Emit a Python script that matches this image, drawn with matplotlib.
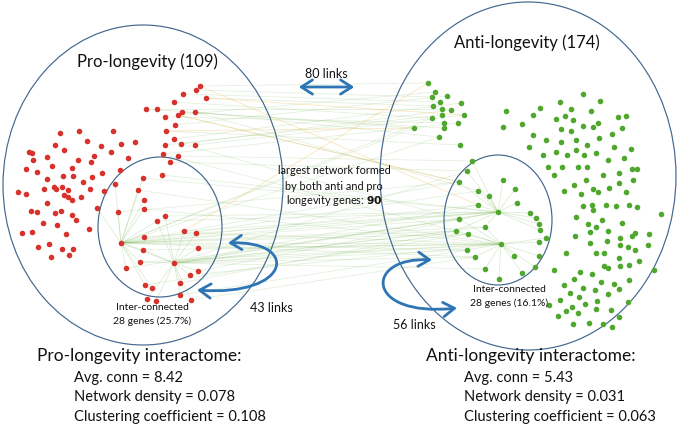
import matplotlib
matplotlib.use("Agg")
import matplotlib.pyplot as plt
from matplotlib.patches import Ellipse, FancyArrowPatch
from matplotlib.path import Path

# ---------------- data ----------------
# Pro-longevity genes (red); first two are hubs
red_x = [121, 174,
         143, 162, 138, 144, 144, 118, 157, 165, 144, 184, 196, 198, 143, 140, 126, 190, 198, 145, 152, 180, 180, 147, 156, 191, 115, 97,
         200, 196, 183, 206, 174, 146, 157, 165, 178, 182, 195, 175, 166, 174, 181, 195, 165, 163, 178, 170,
         60, 79, 113, 87, 101, 121, 135, 55, 64, 29, 32, 94, 111, 128, 33, 47, 78, 91, 52, 72, 26, 37, 120, 63, 73, 92, 102, 47, 83,
         44, 54, 56, 62, 68, 90, 104, 18, 26, 64, 68, 72, 81, 47, 31, 37, 55, 61, 72, 76, 43, 57, 89, 22, 32, 66, 38, 49, 62, 73, 51, 69]
red_y = [243, 263,
         178, 175, 190, 200, 209, 212, 221, 216, 237, 231, 233, 248, 250, 262, 268, 275, 271, 285, 288, 283, 295, 299, 301, 300, 184, 208,
         86, 90, 94, 98, 102, 109, 109, 117, 115, 112, 112, 125, 131, 139, 144, 145, 145, 154, 156, 162,
         133, 131, 131, 141, 146, 144, 142, 145, 150, 152, 153, 156, 152, 158, 160, 157, 160, 162, 166, 168, 169, 172, 170, 176, 176, 177, 173, 179, 182,
         189, 187, 189, 187, 190, 189, 191, 192, 194, 195, 197, 200, 197, 203, 211, 212, 213, 211, 215, 220, 223, 225, 229, 233, 232, 234, 247, 244, 249, 249, 257, 255]

# Anti-longevity genes (green); first two are hubs
green_x = [498, 501,
           472, 467, 459, 503, 515, 478, 489, 478, 517, 530, 536, 459, 539, 540, 485, 456, 468, 546, 539, 467, 475, 514, 539, 535, 485, 522, 499,
           428, 435, 432, 447, 440, 461, 433, 442, 451, 464, 432, 442, 444, 458, 444, 414, 439, 460,
           506, 503, 522, 583, 560, 600, 540, 571, 533, 591, 556, 565, 573, 618, 626, 561, 571, 583, 593, 598, 622, 533, 546, 561, 576, 599, 612,
           529, 556, 567, 576, 584, 587, 596, 614, 631, 543, 608, 624, 548, 562, 578, 587, 554, 603, 619, 586, 632, 637, 633, 574, 593, 609, 619,
           598, 564, 581, 626, 592, 583, 606, 616, 629, 637, 593, 661, 576, 588, 602, 622, 596, 575, 590, 608, 620, 632, 635, 649, 590, 607, 620,
           628, 635, 648, 566, 596, 604, 619, 639, 604, 608, 620, 629, 654, 554, 580, 592, 574, 601, 614, 629, 564, 583, 595, 608, 619, 570, 579,
           560, 585, 597, 628, 572, 549, 566, 558, 578, 596, 611, 619, 573, 589, 603, 612]
green_y = [212, 244,
           161, 171, 182, 180, 189, 191, 196, 205, 203, 213, 218, 219, 224, 230, 227, 231, 234, 238, 242, 250, 257, 256, 256, 267, 269, 273, 279,
           83, 92, 97, 96, 102, 103, 106, 109, 110, 115, 118, 115, 123, 123, 128, 128, 137, 145,
           111, 127, 124, 94, 102, 101, 108, 109, 115, 111, 119, 116, 120, 117, 116, 129, 131, 126, 127, 123, 128, 135, 140, 142, 140, 138, 134,
           147, 152, 155, 150, 155, 145, 153, 147, 149, 155, 160, 158, 167, 167, 167, 167, 175, 175, 173, 180, 169, 169, 180, 185, 189, 188, 183,
           192, 191, 194, 192, 205, 206, 205, 206, 205, 207, 210, 214, 217, 224, 220, 223, 227, 236, 232, 231, 238, 236, 233, 234, 243, 241, 245,
           247, 250, 245, 253, 253, 253, 258, 261, 266, 268, 266, 265, 270, 270, 272, 274, 279, 282, 284, 280, 285, 288, 290, 294, 289, 293, 297,
           300, 304, 301, 302, 307, 305, 311, 316, 313, 309, 310, 317, 324, 323, 324, 327]

# links (red index, green index)
cross_links = [(0, 13), (0, 17), (0, 18), (0, 21), (0, 16), (0, 0), (0, 1), (0, 9), (0, 22), (0, 4), (0, 7), (0, 44), (0, 39), (0, 45),
               (1, 0), (1, 1), (1, 13), (1, 17), (1, 18), (1, 21), (1, 22), (1, 16), (1, 26), (1, 9), (1, 3),
               (10, 0), (11, 0), (12, 1), (13, 1), (14, 1), (8, 0), (9, 0), (15, 1), (17, 1), (18, 0), (3, 0), (2, 0), (6, 1), (4, 1),
               (28, 29), (29, 31), (30, 33), (31, 35), (32, 39), (33, 44), (34, 36), (35, 41), (36, 30), (37, 43), (38, 45), (39, 32),
               (40, 46), (41, 34), (42, 37), (43, 38), (44, 40), (45, 42), (46, 2), (47, 3), (36, 4), (42, 13), (45, 17), (38, 7),
               (21, 17), (22, 21), (19, 18), (25, 22), (16, 13), (7, 4)]
cross_links_orange = [(11, 29), (36, 4), (28, 9), (40, 44), (31, 38)]
red_links = [(0, 2), (0, 4), (0, 5), (0, 6), (0, 7), (0, 10), (0, 14), (0, 15), (0, 16), (0, 19), (0, 20), (0, 26), (0, 27), (0, 8),
             (1, 9), (1, 11), (1, 12), (1, 13), (1, 17), (1, 18), (1, 21), (1, 22), (1, 23), (1, 24), (1, 25), (1, 14), (1, 15), (1, 8), (1, 0)]
green_links = [(0, 2), (0, 3), (0, 4), (0, 5), (0, 6), (0, 7), (0, 8), (0, 9), (0, 10), (0, 11), (0, 12), (0, 14), (0, 15), (0, 16), (0, 13), (0, 17),
               (1, 16), (1, 18), (1, 19), (1, 20), (1, 21), (1, 22), (1, 23), (1, 24), (1, 25), (1, 26), (1, 27), (1, 28), (1, 17), (1, 13)]

pro_title = "Pro-longevity (109)"
anti_title = "Anti-longevity (174)"
pro_stats = ["Avg. conn = 8.42", "Network density = 0.078", "Clustering coefficient = 0.108"]
anti_stats = ["Avg. conn = 5.43", "Network density = 0.031", "Clustering coefficient = 0.063"]

# ---------------- drawing ----------------
FONT = ["Lato", "DejaVu Sans"]
plt.rcParams['font.family'] = FONT

fig = plt.figure(figsize=(6.8, 4.24), dpi=100)
ax = fig.add_axes([0, 0, 1, 1])
ax.set_xlim(0, 680)
ax.set_ylim(424, 0)
ax.axis('off')

EDGE_G = '#7cb65a'
EDGE_O = '#f0b030'
for r, g in cross_links:
    ax.plot([red_x[r], green_x[g]], [red_y[r], green_y[g]], color=EDGE_G, lw=0.6, alpha=0.2, zorder=1)
for r, g in cross_links_orange:
    ax.plot([red_x[r], green_x[g]], [red_y[r], green_y[g]], color=EDGE_O, lw=0.6, alpha=0.3, zorder=1)
for a, b in red_links:
    ax.plot([red_x[a], red_x[b]], [red_y[a], red_y[b]], color=EDGE_G, lw=0.6, alpha=0.25, zorder=1)
for a, b in green_links:
    ax.plot([green_x[a], green_x[b]], [green_y[a], green_y[b]], color=EDGE_G, lw=0.6, alpha=0.25, zorder=1)

ax.scatter(red_x, red_y, s=16, color='#d7322b', linewidths=0, zorder=3)
ax.scatter(green_x, green_y, s=16, color='#4fa82d', linewidths=0, zorder=3)

ELL = '#41678f'
for (cx, cy, w, h) in [(143, 185, 280, 320), (528, 176, 296, 348), (160, 227, 124, 140), (498, 220, 108, 130)]:
    ax.add_patch(Ellipse((cx, cy), w, h, fill=False, edgecolor=ELL, lw=0.85, zorder=2))

ARW = '#2e75b6'
astyle = "<->,head_length=0.5,head_width=0.32"
ax.add_patch(FancyArrowPatch((296, 87), (357, 87), arrowstyle=astyle, mutation_scale=16,
                             color=ARW, lw=2.0, zorder=4))
pL = Path([(228, 243), (300, 240), (292, 297), (197, 290)], [Path.MOVETO, Path.CURVE4, Path.CURVE4, Path.CURVE4])
ax.add_patch(FancyArrowPatch(path=pL, arrowstyle=astyle, mutation_scale=16, color=ARW, lw=2.0, zorder=4))
pR = Path([(432, 260), (364, 256), (364, 318), (457, 308)], [Path.MOVETO, Path.CURVE4, Path.CURVE4, Path.CURVE4])
ax.add_patch(FancyArrowPatch(path=pR, arrowstyle=astyle, mutation_scale=16, color=ARW, lw=2.0, zorder=4))

TC = '#111111'
ax.text(147, 62, pro_title, fontsize=12, ha='center', va='center', color=TC)
ax.text(527, 43, anti_title, fontsize=12, ha='center', va='center', color=TC)
ax.text(326, 74, "80 links", fontsize=9, ha='center', va='center', color=TC)
ax.text(271, 308, "43 links", fontsize=9, ha='center', va='center', color=TC)
ax.text(414, 325, "56 links", fontsize=9, ha='center', va='center', color=TC)
ax.text(334, 171, "largest network formed", fontsize=7.8, ha='center', va='center', color=TC)
ax.text(334, 186, "by both anti and pro", fontsize=7.8, ha='center', va='center', color=TC)
ax.text(334, 200, r"longevity genes: $\bf{90}$", fontsize=7.8, ha='center', va='center', color=TC)
ax.text(152, 307, "Inter-connected", fontsize=7.5, ha='center', va='center', color=TC)
ax.text(152, 321, "28 genes (25.7%)", fontsize=7.5, ha='center', va='center', color=TC)
ax.text(509, 289, "Inter-connected", fontsize=7.5, ha='center', va='center', color=TC)
ax.text(509, 303, "28 genes (16.1%)", fontsize=7.5, ha='center', va='center', color=TC)

ax.text(37, 356, "Pro-longevity interactome:", fontsize=12.5, ha='left', va='center', color=TC)
ax.text(426, 356, "Anti-longevity interactome:", fontsize=12.5, ha='left', va='center', color=TC)
for i, s in enumerate(pro_stats):
    ax.text(74, 378 + i * 19.5, s, fontsize=10.5, ha='left', va='center', color=TC)
for i, s in enumerate(anti_stats):
    ax.text(464, 378 + i * 19.5, s, fontsize=10.5, ha='left', va='center', color=TC)

fig.savefig("out.png", dpi=100)
